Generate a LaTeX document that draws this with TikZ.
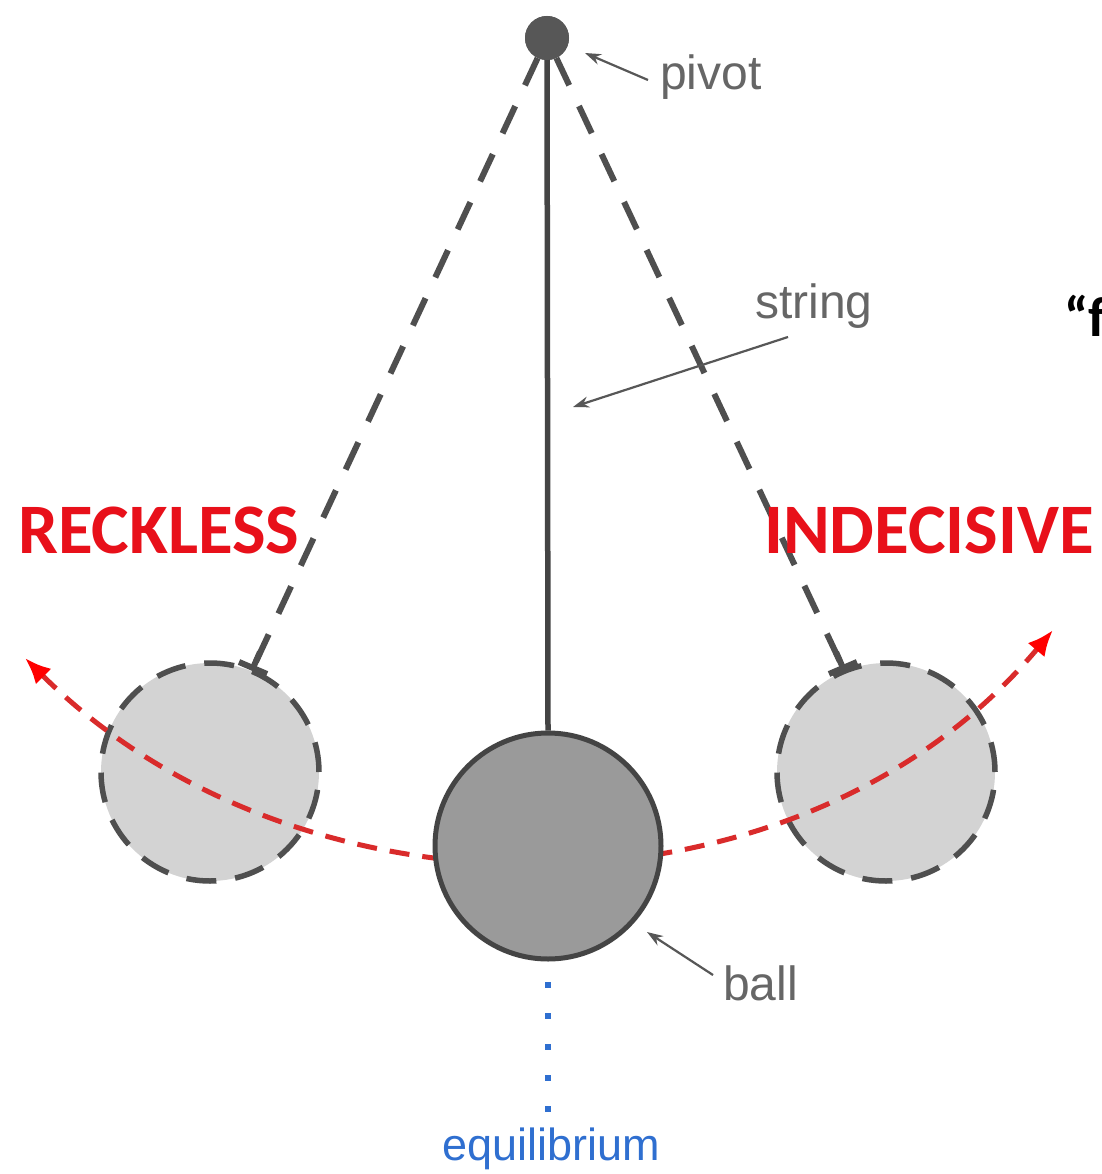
\documentclass[tikz,border=0pt]{standalone}
\usepackage{fontspec}
\setmainfont{Liberation Sans}
\newfontfamily\calib{Carlito}
\usetikzlibrary{arrows.meta}
\definecolor{strk}{HTML}{444444}
\definecolor{dstrk}{HTML}{4F4F4F}
\definecolor{lbl}{HTML}{666666}
\definecolor{ballfill}{HTML}{9A9A9A}
\definecolor{ghostfill}{HTML}{D3D3D3}
\definecolor{arcred}{HTML}{D92B2B}
\definecolor{wordred}{HTML}{E8101A}
\definecolor{eqblue}{HTML}{2F6FD0}
\tikzset{
  ghost/.style={circle, draw=dstrk, fill=ghostfill, line width=5.5pt, dash pattern=on 30pt off 19pt, minimum size=218pt, inner sep=0pt},
  ghoststring/.style={draw=dstrk, line width=6pt, dash pattern=on 30pt off 23pt},
  tbar/.style={draw=dstrk, line width=6pt},
  swing/.style={draw=arcred, line width=5pt, dash pattern=on 20pt off 13pt, {Latex[length=26pt,width=22pt,fill=red,color=red]}-{Latex[length=26pt,width=22pt,fill=red,color=red]}},
  pointer/.style={draw=lbl!85!black, line width=2.2pt, -{Stealth[length=16pt,width=11pt]}},
  glabel/.style={text=lbl, font=\fontsize{48}{48}\selectfont, inner sep=0pt, anchor=base west},
  bigword/.style={text=wordred, font=\calib\bfseries\fontsize{71}{71}\selectfont, inner sep=0pt, anchor=base west},
}
\begin{document}
\begin{tikzpicture}[x=1pt,y=-1pt]
\useasboundingbox (0,0) rectangle (1101,1174);
\clip (0,0) rectangle (1101,1174);
\fill[white] (0,0) rectangle (1101,1174);
% ghost balls
\node[ghost] (lball) at (210,772) {};
\node[ghost] (rball) at (886,772) {};
% pivot
\node[circle, fill=strk!90!white, minimum size=44pt, inner sep=0pt] (pivot) at (547,38) {};
% ghost strings with T-bar ends
\coordinate (lend) at (253,668);
\coordinate (rend) at (843,668);
\draw[ghoststring] (pivot) -- (lend);
\draw[ghoststring] (pivot) -- (rend);
\coordinate (lbarA) at (239,662);
\coordinate (lbarB) at (267,674);
\coordinate (rbarA) at (829,674);
\coordinate (rbarB) at (857,662);
\draw[tbar] (lbarA) -- (lbarB);
\draw[tbar] (rbarA) -- (rbarB);
\coordinate (lstem) at (260,652);
\coordinate (rstem) at (836,652);
\draw[tbar] (lstem) -- (lend);
\draw[tbar] (rstem) -- (rend);
% swing arc
\coordinate (rl) at (25,658);
\coordinate (rr) at (1053,630);
\draw[swing] (rl) .. controls (300,932) and (800,932) .. (rr);
% main ball and string
\node[circle, draw=strk, fill=ballfill, line width=5pt, minimum size=226pt, inner sep=0pt] (ball) at (548,846) {};
\draw[strk, line width=5.5pt] (pivot.center) -- (ball.north);
\node[circle, fill=strk!90!white, minimum size=44pt, inner sep=0pt] at (547,38) {};
% labels
\node[glabel] (pivlbl) at (660,90) {pivot};
\node[glabel] (strlbl) at (755,318) {string};
\node[glabel] (balllbl) at (723,1000) {ball};
\node[glabel, text=eqblue, font=\fontsize{45}{45}\selectfont] (eqlbl) at (442,1160) {equilibrium};
\node[bigword] (reck) at (18,553) {RECKLESS};
\node[bigword] (indec) at (764,553) {INDECISIVE};
\node[inner sep=0pt, anchor=base west, font=\calib\bfseries\fontsize{56}{56}\selectfont] (quote) at (1064,336) {“f};
% pointers
\coordinate (pivtip) at (585,53);
\coordinate (strtip) at (573,407);
\coordinate (balltip) at (647,932);
\draw[pointer] (648,80) -- (pivtip);
\draw[pointer] (788,337) -- (strtip);
\draw[pointer] (713,975) -- (balltip);
% equilibrium dots
\coordinate (eqtop) at (548,982);
\coordinate (eqbot) at (548,1113);
\draw[eqblue, line width=6pt, dash pattern=on 6pt off 25pt] (eqtop) -- (eqbot);
\end{tikzpicture}
\end{document}
